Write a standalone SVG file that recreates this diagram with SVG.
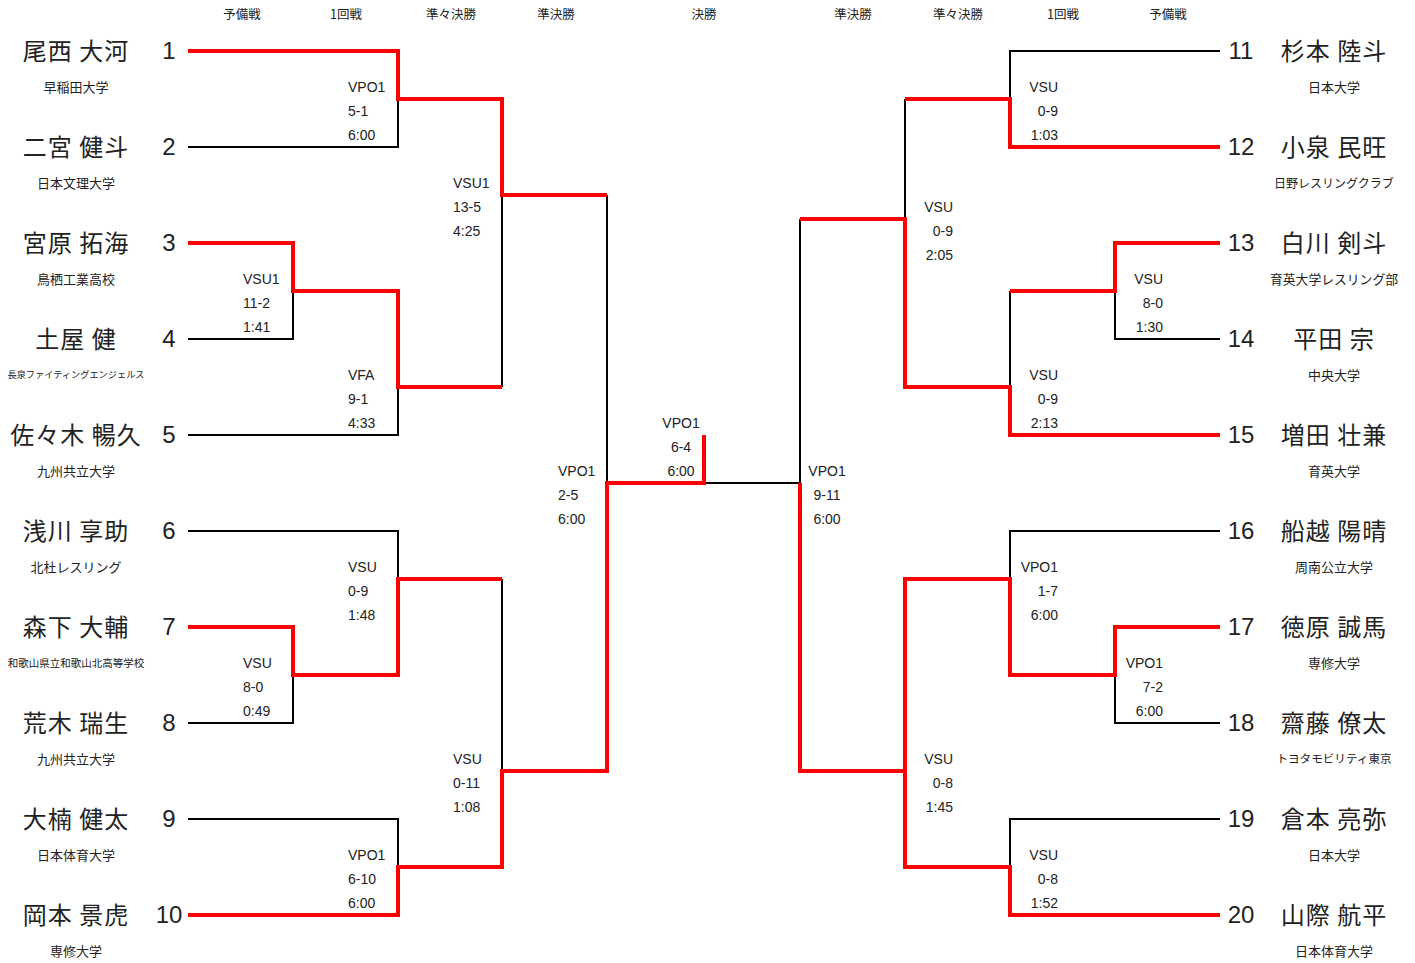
<svg xmlns="http://www.w3.org/2000/svg" width="1415" height="963" viewBox="0 0 1415 963">
<style>
text{font-family:"Liberation Sans","Noto Sans CJK JP",sans-serif;fill:#222;}
.hd{font-family:"Noto Sans CJK JP",sans-serif;font-size:12.5px;text-anchor:middle;dominant-baseline:central;}
.nm{font-family:"Noto Sans CJK JP",sans-serif;font-size:24px;text-anchor:middle;dominant-baseline:central;letter-spacing:1px;}
.no{font-size:24px;text-anchor:middle;dominant-baseline:central;}
.af{font-family:"Noto Sans CJK JP",sans-serif;font-size:13px;text-anchor:middle;dominant-baseline:central;}
.lb{font-size:14px;dominant-baseline:central;}
.r{text-anchor:end;}
.c{text-anchor:middle;}
.bk{fill:none;stroke:#000;stroke-width:2;}
.rd{fill:none;stroke:#f00;stroke-width:4;stroke-linejoin:miter;}
</style>
<rect width="1415" height="963" fill="#fff"/>
<g id="headers">
<text class="hd" x="242" y="13">予備戦</text>
<text class="hd" x="346" y="13">1回戦</text>
<text class="hd" x="451" y="13">準々決勝</text>
<text class="hd" x="556" y="13">準決勝</text>
<text class="hd" x="704" y="13">決勝</text>
<text class="hd" x="853" y="13">準決勝</text>
<text class="hd" x="958" y="13">準々決勝</text>
<text class="hd" x="1063" y="13">1回戦</text>
<text class="hd" x="1168" y="13">予備戦</text>
</g>
<g id="connectors">
<path class="bk" d="M188 147H398V99M188 339H293V291M188 435H398V387M502 195V387M607 195V483M188 531H398V579M188 723H293V675M188 819H398V867M502 579V771M704 483H800"/>
<path class="bk" d="M1220 51H1010V99M1220 339H1115V291M1010 291V387M905 99V219M800 219V483M1220 531H1010V579M1220 723H1115V675M1220 819H1010V867"/>
<path class="rd" d="M188 51H398V99H502V195H607"/>
<path class="rd" d="M188 243H293V291H398V387H502"/>
<path class="rd" d="M188 627H293V675H398V579H502"/>
<path class="rd" d="M188 915H398V867H502V771H607V483H704V435"/>
<path class="rd" d="M1220 147H1010V99H905"/>
<path class="rd" d="M1220 243H1115V291H1010"/>
<path class="rd" d="M1220 435H1010V387H905V219H800"/>
<path class="rd" d="M1220 627H1115V675H1010V579H905V771"/>
<path class="rd" d="M1220 915H1010V867H905V771H800V483"/>
</g>
<g id="match-labels">
<text class="lb" x="348" y="87">VPO1</text><text class="lb" x="348" y="111">5-1</text><text class="lb" x="348" y="135">6:00</text>
<text class="lb" x="243" y="279">VSU1</text><text class="lb" x="243" y="303">11-2</text><text class="lb" x="243" y="327">1:41</text>
<text class="lb" x="348" y="375">VFA</text><text class="lb" x="348" y="399">9-1</text><text class="lb" x="348" y="423">4:33</text>
<text class="lb" x="453" y="183">VSU1</text><text class="lb" x="453" y="207">13-5</text><text class="lb" x="453" y="231">4:25</text>
<text class="lb" x="348" y="567">VSU</text><text class="lb" x="348" y="591">0-9</text><text class="lb" x="348" y="615">1:48</text>
<text class="lb" x="243" y="663">VSU</text><text class="lb" x="243" y="687">8-0</text><text class="lb" x="243" y="711">0:49</text>
<text class="lb" x="453" y="759">VSU</text><text class="lb" x="453" y="783">0-11</text><text class="lb" x="453" y="807">1:08</text>
<text class="lb" x="348" y="855">VPO1</text><text class="lb" x="348" y="879">6-10</text><text class="lb" x="348" y="903">6:00</text>
<text class="lb" x="558" y="471">VPO1</text><text class="lb" x="558" y="495">2-5</text><text class="lb" x="558" y="519">6:00</text>
<text class="lb c" x="681" y="423">VPO1</text><text class="lb c" x="681" y="447">6-4</text><text class="lb c" x="681" y="471">6:00</text>
<text class="lb c" x="827" y="471">VPO1</text><text class="lb c" x="827" y="495">9-11</text><text class="lb c" x="827" y="519">6:00</text>
<text class="lb r" x="1058" y="87">VSU</text><text class="lb r" x="1058" y="111">0-9</text><text class="lb r" x="1058" y="135">1:03</text>
<text class="lb r" x="1163" y="279">VSU</text><text class="lb r" x="1163" y="303">8-0</text><text class="lb r" x="1163" y="327">1:30</text>
<text class="lb r" x="1058" y="375">VSU</text><text class="lb r" x="1058" y="399">0-9</text><text class="lb r" x="1058" y="423">2:13</text>
<text class="lb r" x="953" y="207">VSU</text><text class="lb r" x="953" y="231">0-9</text><text class="lb r" x="953" y="255">2:05</text>
<text class="lb r" x="1058" y="567">VPO1</text><text class="lb r" x="1058" y="591">1-7</text><text class="lb r" x="1058" y="615">6:00</text>
<text class="lb r" x="1163" y="663">VPO1</text><text class="lb r" x="1163" y="687">7-2</text><text class="lb r" x="1163" y="711">6:00</text>
<text class="lb r" x="953" y="759">VSU</text><text class="lb r" x="953" y="783">0-8</text><text class="lb r" x="953" y="807">1:45</text>
<text class="lb r" x="1058" y="855">VSU</text><text class="lb r" x="1058" y="879">0-8</text><text class="lb r" x="1058" y="903">1:52</text>
</g>
<g id="p1"><text class="nm" x="76" y="49">尾西 大河</text><text class="no" x="169" y="50">1</text><text class="af" x="76" y="86">早稲田大学</text></g>
<g id="p2"><text class="nm" x="76" y="145">二宮 健斗</text><text class="no" x="169" y="146">2</text><text class="af" x="76" y="182">日本文理大学</text></g>
<g id="p3"><text class="nm" x="76" y="241">宮原 拓海</text><text class="no" x="169" y="242">3</text><text class="af" x="76" y="278">鳥栖工業高校</text></g>
<g id="p4"><text class="nm" x="76" y="337">土屋 健</text><text class="no" x="169" y="338">4</text><text class="af" x="76" y="374" style="font-size:9.2px">長泉ファイティングエンジェルス</text></g>
<g id="p5"><text class="nm" x="76" y="433">佐々木 暢久</text><text class="no" x="169" y="434">5</text><text class="af" x="76" y="470">九州共立大学</text></g>
<g id="p6"><text class="nm" x="76" y="529">浅川 享助</text><text class="no" x="169" y="530">6</text><text class="af" x="76" y="566">北杜レスリング</text></g>
<g id="p7"><text class="nm" x="76" y="625">森下 大輔</text><text class="no" x="169" y="626">7</text><text class="af" x="76" y="662" style="font-size:10.5px">和歌山県立和歌山北高等学校</text></g>
<g id="p8"><text class="nm" x="76" y="721">荒木 瑞生</text><text class="no" x="169" y="722">8</text><text class="af" x="76" y="758">九州共立大学</text></g>
<g id="p9"><text class="nm" x="76" y="817">大楠 健太</text><text class="no" x="169" y="818">9</text><text class="af" x="76" y="854">日本体育大学</text></g>
<g id="p10"><text class="nm" x="76" y="913">岡本 景虎</text><text class="no" x="169" y="914">10</text><text class="af" x="76" y="950">専修大学</text></g>
<g id="p11"><text class="no" x="1241" y="50">11</text><text class="nm" x="1334" y="49">杉本 陸斗</text><text class="af" x="1334" y="86">日本大学</text></g>
<g id="p12"><text class="no" x="1241" y="146">12</text><text class="nm" x="1334" y="145">小泉 民旺</text><text class="af" x="1334" y="182" style="font-size:12px">日野レスリングクラブ</text></g>
<g id="p13"><text class="no" x="1241" y="242">13</text><text class="nm" x="1334" y="241">白川 剣斗</text><text class="af" x="1334" y="278" style="font-size:12.8px">育英大学レスリング部</text></g>
<g id="p14"><text class="no" x="1241" y="338">14</text><text class="nm" x="1334" y="337">平田 宗</text><text class="af" x="1334" y="374">中央大学</text></g>
<g id="p15"><text class="no" x="1241" y="434">15</text><text class="nm" x="1334" y="433">増田 壮兼</text><text class="af" x="1334" y="470">育英大学</text></g>
<g id="p16"><text class="no" x="1241" y="530">16</text><text class="nm" x="1334" y="529">船越 陽晴</text><text class="af" x="1334" y="566">周南公立大学</text></g>
<g id="p17"><text class="no" x="1241" y="626">17</text><text class="nm" x="1334" y="625">徳原 誠馬</text><text class="af" x="1334" y="662">専修大学</text></g>
<g id="p18"><text class="no" x="1241" y="722">18</text><text class="nm" x="1334" y="721">齋藤 僚太</text><text class="af" x="1334" y="758" style="font-size:11.6px">トヨタモビリティ東京</text></g>
<g id="p19"><text class="no" x="1241" y="818">19</text><text class="nm" x="1334" y="817">倉本 亮弥</text><text class="af" x="1334" y="854">日本大学</text></g>
<g id="p20"><text class="no" x="1241" y="914">20</text><text class="nm" x="1334" y="913">山際 航平</text><text class="af" x="1334" y="950">日本体育大学</text></g>
</svg>
